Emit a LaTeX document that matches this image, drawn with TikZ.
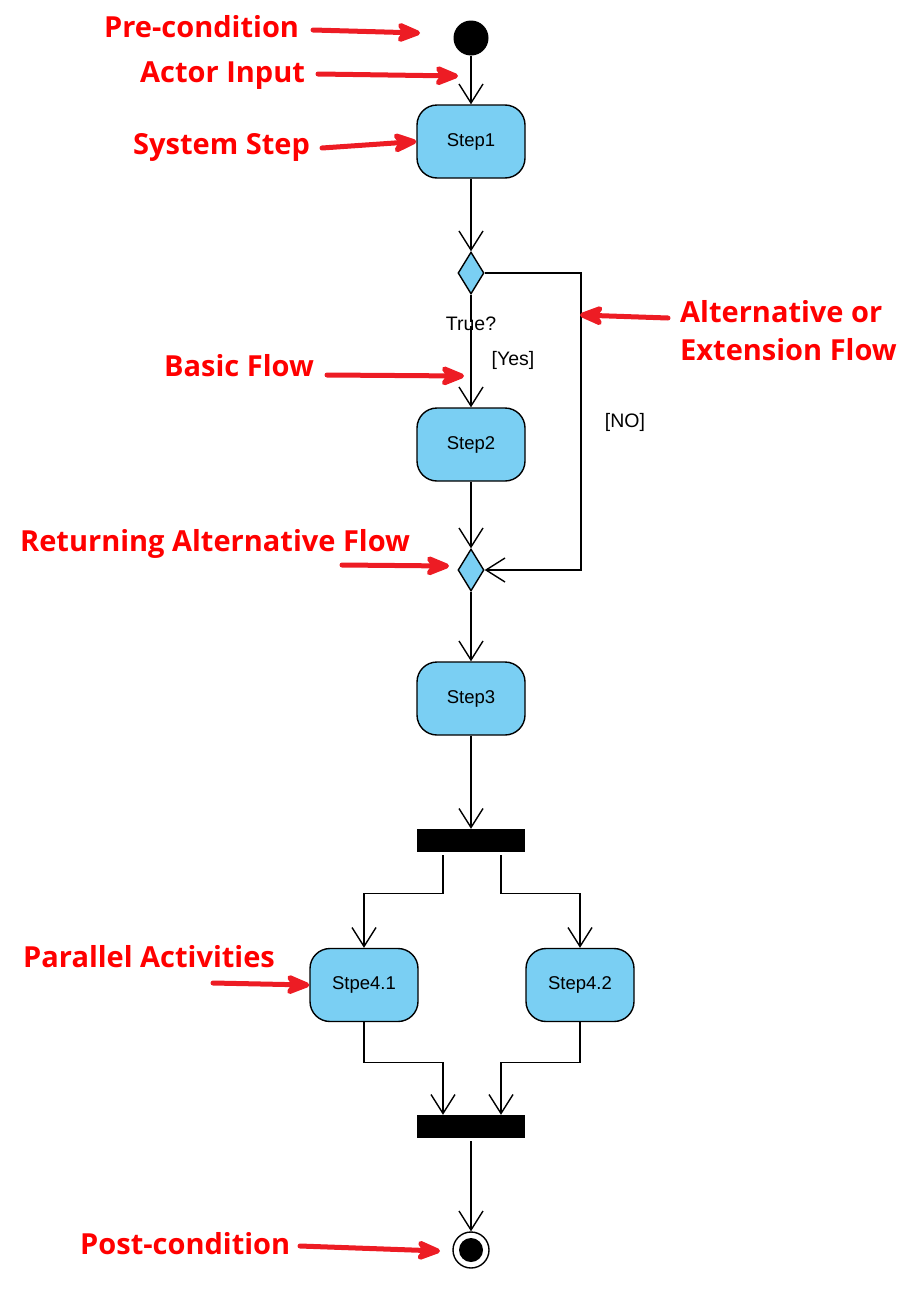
\documentclass[tikz,border=0pt]{standalone}
\usepackage{fontspec}
\setmainfont{Liberation Sans}
\newfontfamily\lblfont{Open Sans}
\usetikzlibrary{arrows.meta,shapes.geometric,calc}
\definecolor{stepblue}{HTML}{7ACFF3}
\definecolor{notered}{HTML}{FF0000}
\definecolor{arrowred}{HTML}{ED1C24}
\tikzset{
  stepbox/.style={draw=black,line width=1.4pt,fill=stepblue,rounded corners=20pt,minimum width=108pt,minimum height=73pt,font=\fontsize{18.5}{21}\selectfont,inner sep=0pt},
  decision/.style={draw=black,line width=1.4pt,fill=stepblue,diamond,minimum width=26pt,minimum height=42pt,inner sep=0pt,aspect=0.6},
  bar/.style={draw=none,fill=black,minimum width=108pt,minimum height=23pt,inner sep=0pt},
  flow/.style={draw=black,line width=1.4pt,-{Straight Barb[length=19pt,width=24pt,line width=1.4pt]}},
  plainline/.style={draw=black,line width=1.4pt},
  guard/.style={font=\fontsize{19.5}{22}\selectfont,inner sep=0pt},
  note/.style={text=notered,font=\lblfont\bfseries\fontsize{29}{38}\selectfont,inner sep=0pt,align=left},
  notearrow/.style={draw=arrowred,line width=5pt,line cap=round,-{Stealth[length=30pt,width=24pt,inset=8pt,round]}},
}
\begin{document}
\begin{tikzpicture}[x=1pt,y=-1pt]
\useasboundingbox (0,0) rectangle (906,1293);
% activity nodes
\node[circle,fill=black,minimum size=35pt,inner sep=0pt] (init) at (471,38) {};
\node[stepbox] (s1) at (471,141.5) {Step1};
\node[decision] (d1) at (471,273) {};
\node[guard] (true) at (471,324) {True?};
\node[guard] (yes) at (513,360) {[Yes]};
\node[stepbox] (s2) at (471,444.5) {Step2};
\node[guard] (no) at (625,422) {[NO]};
\node[decision] (d2) at (471,570) {};
\coordinate (nocorner) at (581,570);
\node[stepbox] (s3) at (471,698.5) {Step3};
\node[bar] (fork) at (471,840.5) {};
\node[stepbox] (s41) at (364,985) {Stpe4.1};
\node[stepbox] (s42) at (580,985) {Step4.2};
\node[bar] (join) at (471,1126.5) {};
\node[circle,draw=black,line width=1.4pt,minimum size=36pt,inner sep=0pt] (final) at (471,1250) {};
\node[circle,fill=black,minimum size=24pt,inner sep=0pt] (finaldot) at (final.center) {};
% flows
\draw[flow] (init) -- (s1.north);
\draw[flow] (s1.south) -- (d1.north);
\draw[plainline] (d1.south) -- ([yshift=-5pt]true.north);
\draw[flow] ([yshift=5pt]true.south) -- (s2.north);
\draw[flow] (d1.east) -| (nocorner) -- (d2.east);
\draw[flow] (s2.south) -- (d2.north);
\draw[flow] (d2.south) -- (s3.north);
\draw[flow] (s3.south) -- (fork.north);
\draw[flow] ([xshift=-28pt,yshift=-3pt]fork.south) -- ++(0,38) -| (s41.north);
\draw[flow] ([xshift=30pt,yshift=-3pt]fork.south) -- ++(0,38) -| (s42.north);
\draw[flow] (s41.south) -- ++(0,40) -| ([xshift=-28pt]join.north);
\draw[flow] (s42.south) -- ++(0,40) -| ([xshift=30pt]join.north);
\draw[flow] ([yshift=-3pt]join.south) -- (final.north);
% annotations
\node[note,anchor=west] (npre) at (104,27) {Pre-condition};
\node[note,anchor=west] (nactor) at (140,76) {Actor Input};
\node[note,anchor=west] (nsys) at (133,147) {System Step};
\node[note,anchor=west] (nalt) at (680,331) {Alternative or\\Extension Flow};
\node[note,anchor=west] (nbasic) at (164,366) {Basic Flow};
\node[note,anchor=west] (nret) at (20,544) {Returning Alternative Flow};
\node[note,anchor=west] (npar) at (23,957) {Parallel Activities};
\node[note,anchor=west] (npost) at (80,1244) {Post-condition};
\coordinate (apre) at (420,33);
\coordinate (aactor) at (458,76);
\coordinate (aalt) at (580,315);
\coordinate (abasic) at (464,376);
\coordinate (aret) at (449,566);
\coordinate (apost) at (440,1251);
\draw[notearrow] (313,30) -- (apre);
\draw[notearrow] (318,74) -- (aactor);
\draw[notearrow] (322,148) -- (s1.west);
\draw[notearrow] (668,318) -- (aalt);
\draw[notearrow] (327,375) -- (abasic);
\draw[notearrow] (342,565) -- (aret);
\draw[notearrow] (213,983) -- (s41.west);
\draw[notearrow] (300,1246) -- (apost);
\end{tikzpicture}
\end{document}
